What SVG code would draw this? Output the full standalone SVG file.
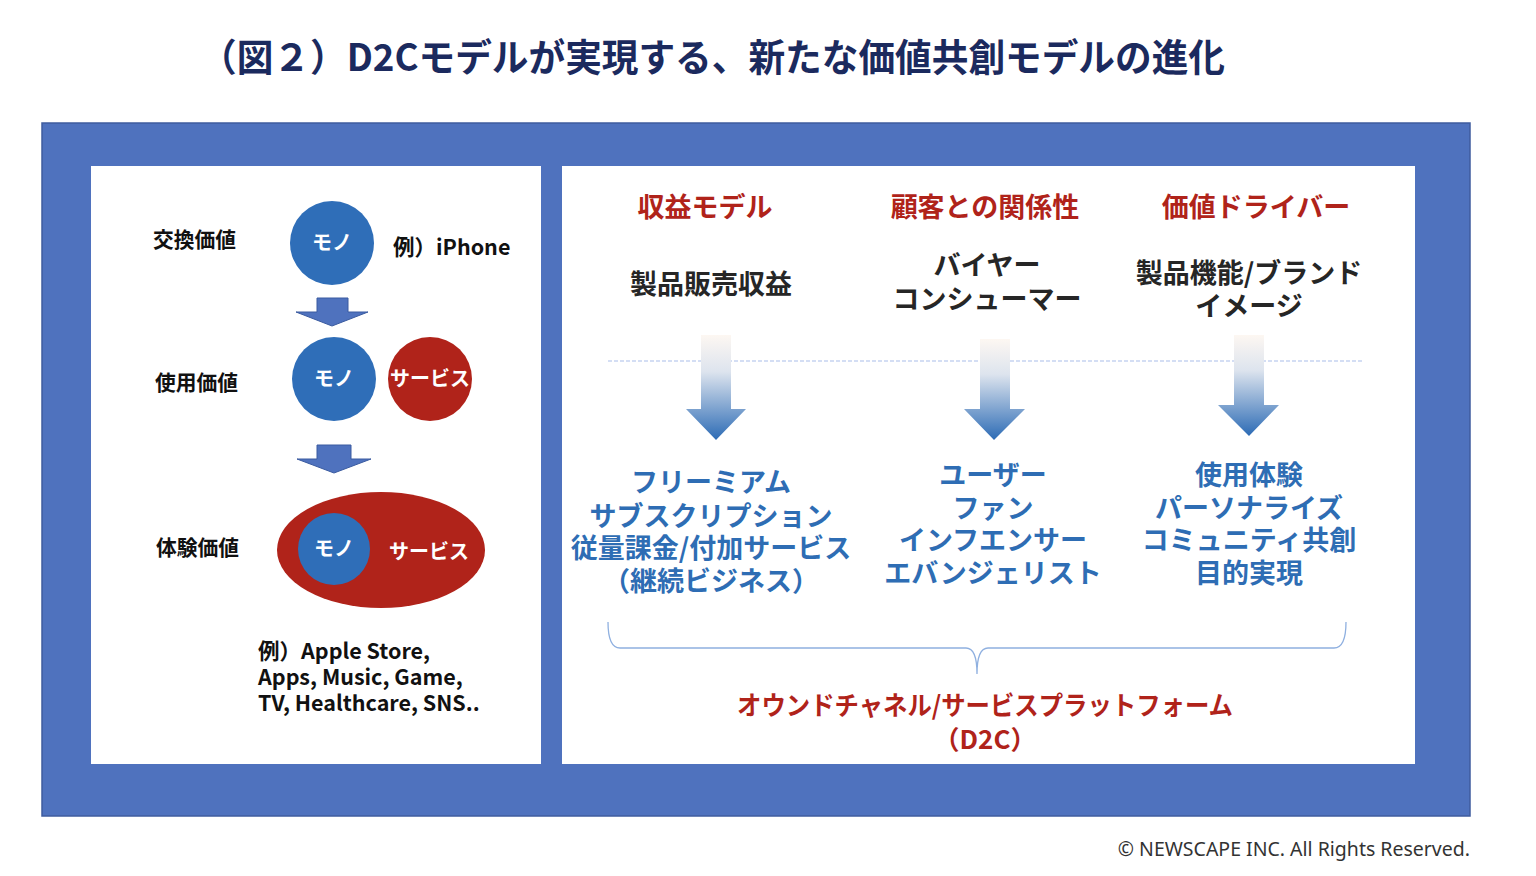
<svg xmlns="http://www.w3.org/2000/svg" width="1536" height="876" viewBox="0 0 1536 876">
<style>
.jp{font-family:"Noto Sans CJK JP","Noto Sans",sans-serif;font-weight:700}
.title{fill:#1B2A5E;font-size:38px}
.lbl{fill:#111;font-size:21px}
.ex{fill:#111;font-size:21.5px}
.wt{fill:#fff;font-size:20px}
.hd{fill:#B0231A;font-size:27px;text-anchor:middle}
.bk{fill:#262626;font-size:27px;text-anchor:middle}
.bl{fill:#2E6DB4;font-size:27px;text-anchor:middle}
.rd{fill:#B0231A;font-size:26px;text-anchor:middle}
.mono{fill:#2F6EB8}
.serv{fill:#B0231A}
.barrow{fill:#4F72BE;stroke:#3A5BA0;stroke-width:1}
.garrow{fill:url(#grad)}
</style>
<defs>
<linearGradient id="grad" x1="0" y1="0" x2="0" y2="1">
<stop offset="0" stop-color="#FDF7F2"/>
<stop offset="0.35" stop-color="#DDE4EE"/>
<stop offset="1" stop-color="#2C6BB5"/>
</linearGradient>
</defs>
<rect width="1536" height="876" fill="#fff"/>
<text id="title" class="jp title" x="200" y="71" textLength="1025" lengthAdjust="spacingAndGlyphs">（図２）D2Cモデルが実現する、新たな価値共創モデルの進化</text>
<rect id="frame" x="42" y="123" width="1428" height="693" fill="#4F72BE" stroke="#3F5C9E" stroke-width="1.5"/>
<rect id="leftPanel" x="91" y="166" width="450" height="598" fill="#fff"/>
<rect id="rightPanel" x="562" y="166" width="853" height="598" fill="#fff"/>

<g id="exchange">
<text class="jp lbl" x="153" y="247" textLength="83" lengthAdjust="spacingAndGlyphs">交換価値</text>
<circle class="mono" cx="332" cy="243" r="42"/>
<text class="jp wt" x="332" y="250" text-anchor="middle">モノ</text>
<text class="jp ex" x="393" y="255" font-size="22">例）iPhone</text>
</g>
<g id="use">
<text class="jp lbl" x="155" y="390" textLength="83" lengthAdjust="spacingAndGlyphs">使用価値</text>
<circle class="mono" cx="334" cy="379" r="42"/>
<text class="jp wt" x="334" y="386" text-anchor="middle">モノ</text>
<circle class="serv" cx="430" cy="379" r="42"/>
<text class="jp wt" x="430" y="386" text-anchor="middle">サービス</text>
</g>
<g id="experience">
<text class="jp lbl" x="156" y="555" textLength="83" lengthAdjust="spacingAndGlyphs">体験価値</text>
<ellipse class="serv" cx="381" cy="550" rx="104" ry="58"/>
<circle class="mono" cx="334" cy="549" r="36"/>
<text class="jp wt" x="334" y="556" text-anchor="middle">モノ</text>
<text class="jp wt" x="429" y="559" text-anchor="middle">サービス</text>
<text class="jp ex" x="258" y="659">例）Apple Store,</text>
<text class="jp ex" x="258" y="685">Apps, Music, Game,</text>
<text class="jp ex" x="258" y="711">TV, Healthcare, SNS..</text>
</g>

<g id="col1">
<text class="jp hd" x="705" y="217">収益モデル</text>
<text class="jp bk" x="711" y="294">製品販売収益</text>
<text class="jp bl" x="711" y="492">フリーミアム</text>
<text class="jp bl" x="711" y="526">サブスクリプション</text>
<text class="jp bl" x="711" y="558">従量課金/付加サービス</text>
<text class="jp bl" x="711" y="591">（継続ビジネス）</text>
</g>
<g id="col2">
<text class="jp hd" x="985" y="217">顧客との関係性</text>
<text class="jp bk" x="987" y="275">バイヤー</text>
<text class="jp bk" x="987" y="309">コンシューマー</text>
<text class="jp bl" x="993" y="485">ユーザー</text>
<text class="jp bl" x="993" y="518">ファン</text>
<text class="jp bl" x="993" y="550">インフエンサー</text>
<text class="jp bl" x="993" y="583">エバンジェリスト</text>
</g>
<g id="col3">
<text class="jp hd" x="1256" y="217">価値ドライバー</text>
<text class="jp bk" x="1249" y="283">製品機能/ブランド</text>
<text class="jp bk" x="1249" y="316">イメージ</text>
<text class="jp bl" x="1249" y="485">使用体験</text>
<text class="jp bl" x="1249" y="518">パーソナライズ</text>
<text class="jp bl" x="1249" y="550">コミュニティ共創</text>
<text class="jp bl" x="1249" y="583">目的実現</text>
</g>
<g id="platform">
<text class="jp rd" x="985" y="715" textLength="496" lengthAdjust="spacingAndGlyphs">オウンドチャネル/サービスプラットフォーム</text>
<text class="jp rd" x="985" y="749">（D2C）</text>
</g>

<g id="connectors">
<line x1="608" y1="361" x2="1362" y2="361" stroke="#A9BEEA" stroke-width="1.2" stroke-dasharray="4 2"/>
<polygon class="barrow" points="317,298 348,298 348,312 368,312 332,326 296,312 317,312"/>
<polygon class="barrow" points="317,445 351,445 351,459 371,459 334,473 297,459 317,459"/>
<polygon class="garrow" points="701,335 731,335 731,409 746,409 716,440 686,409 701,409"/>
<polygon class="garrow" points="980,339 1010,339 1010,409 1025,409 994,440 964,409 980,409"/>
<polygon class="garrow" points="1234,335 1264,335 1264,405 1279,405 1249,436 1218,405 1234,405"/>
<path d="M608,622 Q608,648 620,648 L966,648 Q977,648 977,674 Q977,648 988,648 L1334,648 Q1346,648 1346,622" fill="none" stroke="#8FB0E0" stroke-width="1.3"/>
</g>
<text id="footer" x="1470" y="856" text-anchor="end" font-family="'Noto Sans',sans-serif" font-size="19.5" fill="#333">© NEWSCAPE INC. All Rights Reserved.</text>
</svg>
